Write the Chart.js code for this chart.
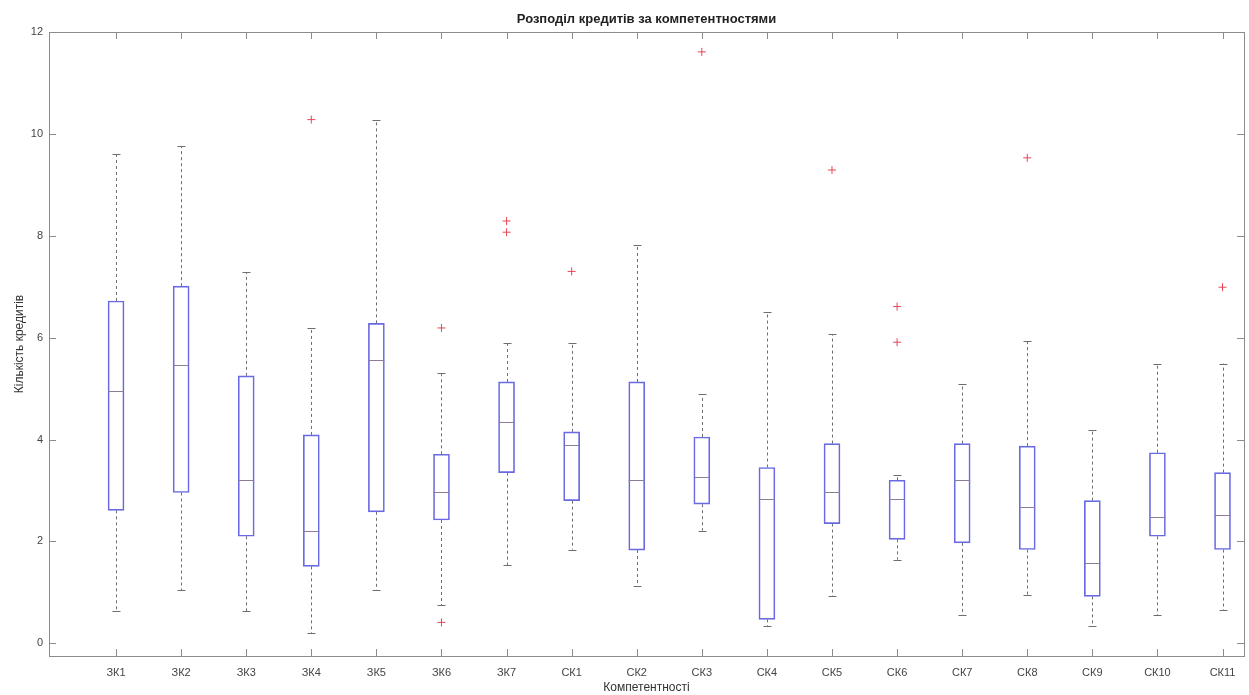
<!DOCTYPE html>
<html>
<head>
<meta charset="utf-8">
<script src="https://cdn.jsdelivr.net/npm/chart.js@4"></script>
<style>
  body { margin: 0; background: #fff; }
</style>
</head>
<body>
<canvas id="boxChart" width="1249" height="695"></canvas>
<script>
const categories = ["ЗК1","ЗК2","ЗК3","ЗК4","ЗК5","ЗК6","ЗК7","СК1","СК2","СК3","СК4","СК5","СК6","СК7","СК8","СК9","СК10","СК11"];
const upperWhisker = [9.6, 9.76, 7.28, 6.18, 10.28, 5.3, 5.89, 5.9, 7.82, 4.89, 6.51, 6.07, 3.3, 5.09, 5.93, 4.18, 5.49, 5.49];
const q3 = [6.72, 7.01, 5.25, 4.09, 6.28, 3.71, 5.13, 4.15, 5.13, 4.05, 3.45, 3.92, 3.2, 3.92, 3.87, 2.8, 3.74, 3.35];
const medians = [4.95, 5.46, 3.2, 2.21, 5.56, 2.96, 4.35, 3.89, 3.2, 3.26, 2.84, 2.96, 2.84, 3.2, 2.68, 1.58, 2.47, 2.51];
const q1 = [2.61, 2.96, 2.1, 1.51, 2.58, 2.42, 3.35, 2.8, 1.83, 2.73, 0.47, 2.35, 2.04, 1.97, 1.84, 0.92, 2.1, 1.84];
const lowerWhisker = [0.64, 1.04, 0.63, 0.2, 1.04, 0.75, 1.53, 1.84, 1.13, 2.21, 0.33, 0.92, 1.64, 0.55, 0.94, 0.33, 0.55, 0.65];
// outliers: category number and value
const outlierCat = [4, 6, 6, 7, 7, 8, 10, 12, 13, 13, 15, 18];
const outlierVal = [10.28, 6.19, 0.41, 8.29, 8.07, 7.3, 11.61, 9.29, 6.61, 5.91, 9.53, 6.99];
const yTicks = [0, 2, 4, 6, 8, 10, 12];

const axisColor = '#8c8c8c';
const boxColor = 'rgb(105,105,225)';
const medianColor = 'rgb(140,125,150)';
const whiskerColor = '#6e6e6e';

// whiskers, caps and medians drawn from the arrays through the chart scales
const boxExtras = {
    id: 'boxExtras',
    beforeDatasetsDraw(chart) {
        const ctx = chart.ctx;
        const xs = chart.scales.x;
        const ys = chart.scales.y;
        ctx.save();
        ctx.strokeStyle = whiskerColor;
        ctx.lineWidth = 1;
        for (let i = 0; i < categories.length; i++) {
            let px = Math.round(xs.getPixelForValue(i + 1)) + 0.5;
            ctx.setLineDash([3, 3]);
            ctx.beginPath();
            ctx.moveTo(px, ys.getPixelForValue(q3[i]));
            ctx.lineTo(px, ys.getPixelForValue(upperWhisker[i]));
            ctx.moveTo(px, ys.getPixelForValue(q1[i]));
            ctx.lineTo(px, ys.getPixelForValue(lowerWhisker[i]));
            ctx.stroke();
            ctx.setLineDash([]);
            ctx.beginPath();
            let yu = Math.round(ys.getPixelForValue(upperWhisker[i])) + 0.5;
            let yl = Math.round(ys.getPixelForValue(lowerWhisker[i])) + 0.5;
            ctx.moveTo(px - 4, yu); ctx.lineTo(px + 4, yu);
            ctx.moveTo(px - 4, yl); ctx.lineTo(px + 4, yl);
            ctx.stroke();
        }
        ctx.restore();
    },
    afterDatasetsDraw(chart) {
        const ctx = chart.ctx;
        const xs = chart.scales.x;
        const ys = chart.scales.y;
        ctx.save();
        ctx.strokeStyle = medianColor;
        ctx.lineWidth = 1;
        for (let i = 0; i < categories.length; i++) {
            let px = xs.getPixelForValue(i + 1);
            let py = Math.round(ys.getPixelForValue(medians[i])) + 0.5;
            ctx.beginPath();
            ctx.moveTo(px - 8, py);
            ctx.lineTo(px + 8, py);
            ctx.stroke();
        }
        ctx.restore();
    },
    afterDraw(chart) {
        // MATLAB style frame with inward ticks on all sides
        const ctx = chart.ctx;
        const a = chart.chartArea;
        const xs = chart.scales.x;
        const ys = chart.scales.y;
        ctx.save();
        ctx.strokeStyle = axisColor;
        ctx.lineWidth = 1;
        ctx.strokeRect(Math.round(a.left) + 0.5, Math.round(a.top) + 0.5, Math.round(a.right - a.left), Math.round(a.bottom - a.top));
        ctx.beginPath();
        xs.ticks.forEach(t => {
            let px = Math.round(xs.getPixelForValue(t.value)) + 0.5;
            ctx.moveTo(px, a.bottom); ctx.lineTo(px, a.bottom - 7);
            ctx.moveTo(px, a.top); ctx.lineTo(px, a.top + 7);
        });
        ys.ticks.forEach(t => {
            let py = Math.round(ys.getPixelForValue(t.value)) + 0.5;
            ctx.moveTo(a.left, py); ctx.lineTo(a.left + 7, py);
            ctx.moveTo(a.right, py); ctx.lineTo(a.right - 7, py);
        });
        ctx.stroke();
        ctx.restore();
    }
};

const boxData = categories.map((c, i) => ({ x: i + 1, y: [q1[i], q3[i]] }));
const outlierData = outlierCat.map((c, i) => ({ x: c, y: outlierVal[i] }));

var ctx = document.getElementById('boxChart').getContext('2d');
var boxChart = new Chart(ctx, {
    type: 'bar',
    data: {
        datasets: [{
            label: 'Boxes',
            data: boxData,
            backgroundColor: 'rgba(0,0,0,0)',
            borderColor: boxColor,
            borderWidth: 1,
            borderSkipped: false,
            barThickness: 16
        }, {
            type: 'scatter',
            label: 'Outliers',
            data: outlierData,
            pointStyle: 'cross',
            pointRadius: 4,
            borderColor: 'rgb(230,70,85)',
            borderWidth: 1
        }]
    },
    plugins: [boxExtras],
    options: {
        responsive: false,
        animation: false,
        layout: { padding: { left: 0, right: 1, top: 0, bottom: 0 } },
        plugins: {
            legend: { display: false },
            tooltip: { enabled: false },
            title: {
                display: true,
                text: 'Розподіл кредитів за компетентностями',
                fullSize: false,
                color: '#222',
                font: { family: 'Liberation Sans', size: 13, weight: 'bold' },
                padding: { top: 12, bottom: 4.4 }
            }
        },
        scales: {
            x: {
                type: 'linear',
                offset: false,
                min: -0.03,
                max: 18.33,
                grid: { display: false, drawTicks: false, offset: false },
                border: { display: false },
                afterBuildTicks: function(scale) {
                    scale.ticks = categories.map((c, i) => ({ value: i + 1 }));
                },
                afterFit: function(scale) { scale.height = 39; },
                ticks: {
                    autoSkip: false,
                    maxRotation: 0,
                    padding: 10,
                    color: '#444',
                    font: { family: 'Liberation Sans', size: 11 },
                    callback: function(value) { return categories[value - 1]; }
                },
                title: {
                    display: true,
                    text: 'Компетентності',
                    color: '#333',
                    font: { family: 'Liberation Sans', size: 12 },
                    padding: { top: 0, bottom: 0 }
                }
            },
            y: {
                min: -0.25,
                max: 12,
                grid: { display: false, drawTicks: false },
                border: { display: false },
                afterBuildTicks: function(scale) {
                    scale.ticks = yTicks.map(v => ({ value: v }));
                },
                afterFit: function(scale) { scale.width = 49; },
                ticks: {
                    padding: 6,
                    color: '#444',
                    font: { family: 'Liberation Sans', size: 11 }
                },
                title: {
                    display: true,
                    text: 'Кількість кредитів',
                    color: '#333',
                    font: { family: 'Liberation Sans', size: 12 },
                    padding: { top: 12, bottom: 0 }
                }
            }
        }
    }
});
</script>
</body>
</html>
